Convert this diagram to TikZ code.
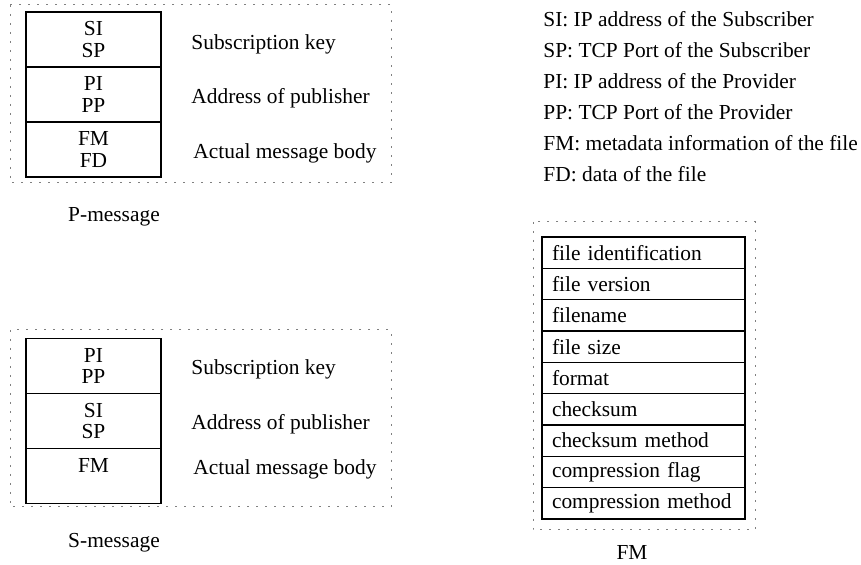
\documentclass[tikz,border=0pt]{standalone}
\usepackage{fontspec}
\setmainfont{Liberation Serif}
\tikzset{
  cell/.style={draw, line width=0.6pt, minimum width=67.5pt, minimum height=27.5pt, align=center, inner sep=0pt},
  fmcell/.style={draw, line width=0.6pt, text width=91.5pt, inner xsep=5pt, inner ysep=0pt, minimum height=15.67pt, align=left},
  frame/.style={color=gray, line width=0.5pt, dash pattern=on 1pt off 3.5pt},
  lbl/.style={anchor=west, inner sep=0pt}
}
\begin{document}
\begin{tikzpicture}[x=0.5pt, y=-0.5pt, font=\fontsize{10.7}{10.8}\selectfont]
  \useasboundingbox (0,0) rectangle (861,565);
  % P-message
  \draw[frame] (10,5) rectangle (391,183);
  \node[cell] (psub) at (93.5,39.5) {SI\\SP};
  \node[cell] (padr) at (93.5,94.5) {PI\\PP};
  \node[cell] (pbody) at (93.5,149.5) {FM\\FD};
  \node[lbl] (psubtxt) at (191,44) {Subscription key};
  \node[lbl] (padrtxt) at (191,98) {Address of publisher};
  \node[lbl] (pbodytxt) at (193,153) {Actual message body};
  \node (pname) at (114,217) {P-message};
  % S-message
  \draw[frame] (10,330) rectangle (391,507);
  \node[cell] (ssub) at (93.5,366) {PI\\PP};
  \node[cell] (sadr) at (93.5,421) {SI\\SP};
  \node[cell] (sbody) at (93.5,476) {FM\\ \mbox{}};
  \node[lbl] (ssubtxt) at (191,369) {Subscription key};
  \node[lbl] (sadrtxt) at (191,424) {Address of publisher};
  \node[lbl] (sbodytxt) at (193,469) {Actual message body};
  \node (sname) at (114,543) {S-message};
  % legend
  \foreach \i/\txt in {1/{SI: IP address of the Subscriber}, 2/{SP: TCP Port of the Subscriber},
      3/{PI: IP address of the Provider}, 4/{PP: TCP Port of the Provider},
      5/{FM: metadata information of the file}, 6/{FD: data of the file}}
    \node[lbl] (leg\i) at (543,{17+31*(\i-1)+2}) {\txt};
  % FM fields
  \draw[frame] (533,222) rectangle (755,530);
  \foreach \i/\txt in {1/file identification, 2/file version, 3/filename, 4/file size, 5/format,
      6/checksum, 7/checksum method, 8/compression flag, 9/compression method}
    \node[fmcell] (fm\i) at (643.5,{237+31.33*(\i-0.5)}) {\txt};
  \node (fmname) at (632,552) {FM};
\end{tikzpicture}
\end{document}
